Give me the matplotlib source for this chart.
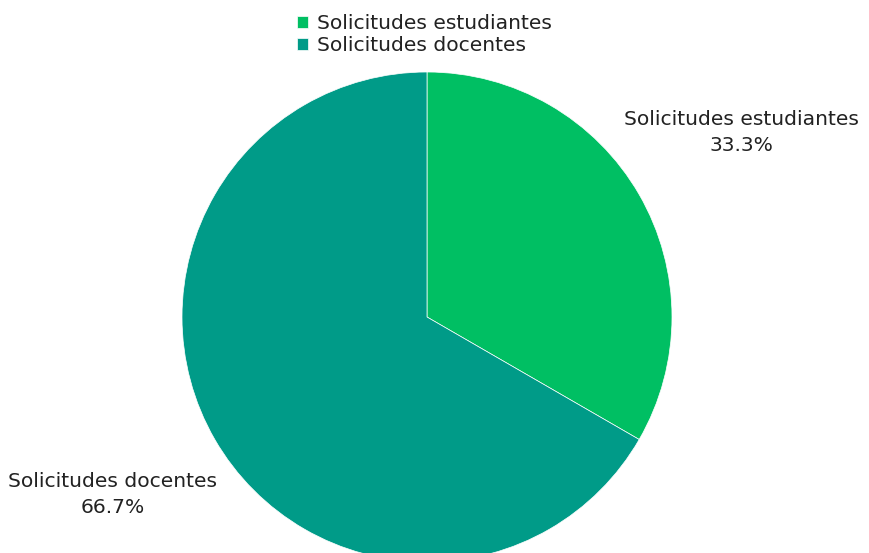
import matplotlib
matplotlib.use("Agg")
import matplotlib.pyplot as plt
import matplotlib.transforms as mtransforms

categorias = ["Solicitudes estudiantes", "Solicitudes docentes"]
valores = [1, 2]
colores = ["#00BF63", "#009B88"]

plt.rcParams['font.family'] = ['DejaVu Sans']

fig = plt.figure(figsize=(8.7, 5.53), dpi=100)
# pie centre ~ (427, 317) px, radius ~245 px
ax = fig.add_axes([182 / 870, (553 - 317 - 245) / 553, 490 / 870, 490 / 553])

wedges, textos, pct = ax.pie(valores, labels=categorias, colors=colores,
                             startangle=90, counterclock=False,
                             autopct='%1.1f%%', labeldistance=1.48, pctdistance=1.48,
                             wedgeprops=dict(linewidth=0.5, edgecolor='white'))
subir = mtransforms.offset_copy(ax.transData, fig=fig, x=0, y=3.5, units='dots')
for t, p in zip(textos, pct):
    t.set_text(t.get_text() + "\n" + p.get_text())
    t.set_ha('center')
    t.set_va('center')
    t.set_fontsize(14.6)
    t.set_color('#222222')
    t.set_linespacing(1.45)
    t.set_transform(subir)
    p.set_visible(False)
ax.set_xlim(-1, 1)
ax.set_ylim(-1, 1)
ax.set_aspect('equal')

fig.legend(wedges, categorias, loc='upper center', bbox_to_anchor=(0.488, 1.008),
           frameon=False, fontsize=14.6, handlelength=0.55, handleheight=0.55,
           handletextpad=0.45, labelspacing=0.15, labelcolor='#222222')

fig.savefig("out.png", dpi=100)
